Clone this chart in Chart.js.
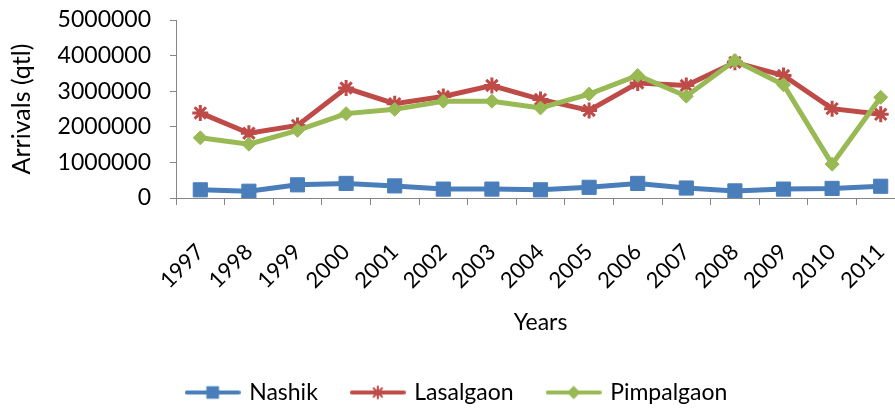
<!DOCTYPE html>
<html>
<head>
<meta charset="utf-8">
<script src="https://cdn.jsdelivr.net/npm/chart.js@4.4.1/dist/chart.umd.min.js"></script>
<style>
    html, body { margin: 0; padding: 0; background: #fff; overflow: hidden; }
    #wrap { width: 895px; height: 410px; overflow: hidden; }
</style>
</head>
<body>
<div id="wrap"><canvas id="arrivalsChart" width="916" height="414"></canvas></div>
<script>
const years = ["1997", "1998", "1999", "2000", "2001", "2002", "2003", "2004", "2005", "2006", "2007", "2008", "2009", "2010", "2011"];
const nashik = [230000, 190000, 370000, 410000, 340000, 250000, 250000, 230000, 300000, 410000, 280000, 200000, 250000, 270000, 330000];
const lasalgaon = [2390000, 1820000, 2040000, 3090000, 2650000, 2850000, 3160000, 2770000, 2460000, 3230000, 3160000, 3810000, 3440000, 2510000, 2350000];
const pimpalgaon = [1690000, 1510000, 1900000, 2370000, 2490000, 2720000, 2720000, 2530000, 2920000, 3440000, 2860000, 3860000, 3180000, 950000, 2830000];
const yTicks = [0, 1000000, 2000000, 3000000, 4000000, 5000000];

const FONT = "Lato";
const axisGray = "#868686";

const series = [
    { label: "Nashik", data: nashik, color: "#4A7EBB", style: "rect", radius: 10, order: 3 },
    { label: "Lasalgaon", data: lasalgaon, color: "#BE4B48", style: "star", radius: 8, order: 2 },
    { label: "Pimpalgaon", data: pimpalgaon, color: "#98B954", style: "rectRot", radius: 7, order: 1 }
];

// little line + marker picture for the legend
function legendIcon(s) {
    const c = document.createElement("canvas");
    c.width = 56;
    c.height = 20;
    const ctx = c.getContext("2d");
    ctx.strokeStyle = s.color;
    ctx.lineWidth = 4;
    ctx.lineCap = "round";
    ctx.beginPath();
    ctx.moveTo(2, 10);
    ctx.lineTo(54, 10);
    ctx.stroke();
    ctx.fillStyle = s.color;
    ctx.lineWidth = 2;
    Chart.helpers.drawPoint(ctx, { pointStyle: s.style, radius: s.radius * 0.75, borderWidth: 2 }, 28, 10);
    ctx.fill();
    return c;
}

const icons = series.map(legendIcon);

const datasets = series.map(s => ({
    label: s.label,
    data: s.data,
    borderColor: s.color,
    backgroundColor: s.color,
    borderWidth: 5,
    pointStyle: s.style,
    pointRadius: s.radius,
    pointBorderWidth: s.style === "star" ? 3 : 1,
    pointBackgroundColor: s.color,
    pointBorderColor: s.color,
    tension: 0,
    order: s.order
}));

new Chart(document.getElementById("arrivalsChart"), {
    type: "line",
    data: { labels: years, datasets: datasets },
    options: {
        responsive: false,
        animation: false,
        layout: { padding: { top: 0, right: 1, left: 0, bottom: 0 } },
        plugins: {
            tooltip: { enabled: false },
            legend: {
                position: "bottom",
                labels: {
                    usePointStyle: true,
                    pointStyleWidth: 50,
                    padding: 35,
                    color: "#000",
                    font: { family: FONT, size: 23 },
                    generateLabels: () => series.map((s, i) => ({
                        text: s.label,
                        pointStyle: icons[i],
                        fillStyle: s.color,
                        strokeStyle: s.color,
                        lineWidth: 0,
                        fontColor: "#000",
                        hidden: false,
                        datasetIndex: i
                    }))
                }
            }
        },
        scales: {
            x: {
                offset: true,
                grid: { display: true, drawOnChartArea: false, drawTicks: true, tickLength: 7, color: axisGray, offset: true },
                border: { color: axisGray, width: 1 },
                ticks: {
                    color: "#000",
                    font: { family: FONT, size: 22 },
                    minRotation: 45,
                    maxRotation: 45,
                    autoSkip: false,
                    padding: 34
                },
                title: {
                    display: true,
                    text: "Years",
                    color: "#000",
                    font: { family: FONT, size: 23 },
                    padding: { top: 0, bottom: 10 }
                },
                afterFit: scale => {
                    scale.height = 148;
                    scale.paddingLeft = 0;
                    scale.paddingRight = 0;
                }
            },
            y: {
                min: 0,
                max: 5000000,
                afterBuildTicks: scale => { scale.ticks = yTicks.map(v => ({ value: v })); },
                grid: { display: true, drawOnChartArea: false, drawTicks: true, tickLength: 6, color: axisGray },
                border: { color: axisGray, width: 1 },
                ticks: {
                    color: "#000",
                    font: { family: FONT, size: 23 },
                    padding: 19,
                    callback: v => String(v)
                },
                title: {
                    display: true,
                    text: "Arrivals (qtl)",
                    color: "#000",
                    font: { family: FONT, size: 25 },
                    padding: { top: 7, bottom: 0 }
                },
                afterFit: scale => {
                    scale.width = 176;
                    scale.paddingTop = 20;
                    scale.paddingBottom = 0;
                }
            }
        }
    }
});
</script>
</body>
</html>
